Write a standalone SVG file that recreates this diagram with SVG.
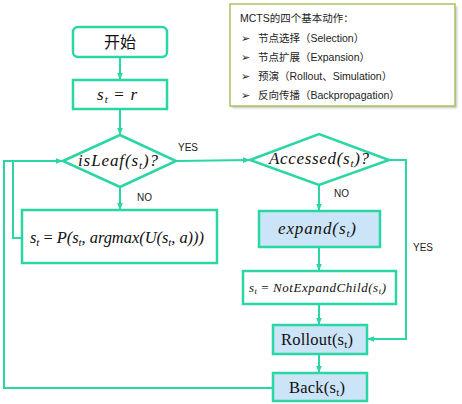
<svg xmlns="http://www.w3.org/2000/svg" width="462" height="404" viewBox="0 0 462 404">
<style>
.box{fill:#ffffff;stroke:#2ad6a3;stroke-width:2.5}
.blue{fill:#cce4f8;stroke:#2ad6a3;stroke-width:2.5}
.ln{fill:none;stroke:#2ad6a3;stroke-width:2}
.m{font-family:"Liberation Serif","DejaVu Serif",serif;font-style:italic;fill:#111}
.r{font-family:"Liberation Serif","DejaVu Serif",serif;fill:#111}
.lab{font-family:"Liberation Sans","Noto Sans CJK SC",sans-serif;font-size:10px;fill:#222}
.leg{font-family:"Liberation Sans","Noto Sans CJK SC",sans-serif;font-size:10.5px;fill:#222}
.cn{font-family:"Noto Sans CJK SC",sans-serif;font-size:16px;fill:#111}
</style>
<defs>
<marker id="ah" viewBox="0 0 10 10" refX="10" refY="5" markerWidth="7" markerHeight="7" markerUnits="userSpaceOnUse" orient="auto">
<path d="M0,1 L10,5 L0,9 Z" fill="#2ad6a3"/>
</marker>
<filter id="sh" x="-5%" y="-5%" width="115%" height="120%"><feGaussianBlur stdDeviation="1.2"/></filter>
</defs>
<rect width="462" height="404" fill="#ffffff"/>
<g id="legend">
<rect x="232" y="6" width="225" height="102" fill="#9a9a9a" opacity="0.6" filter="url(#sh)"/>
<rect x="230" y="4" width="225" height="102" fill="#ffffff" stroke="#a6c45e" stroke-width="1.5"/>
<text class="leg" x="240" y="22">MCTS的四个基本动作：</text>
<text class="leg" x="241" y="42">➢</text><text class="leg" x="258" y="42">节点选择（Selection）</text>
<text class="leg" x="241" y="61">➢</text><text class="leg" x="258" y="61">节点扩展（Expansion）</text>
<text class="leg" x="241" y="80">➢</text><text class="leg" x="258" y="80">预演（Rollout、Simulation）</text>
<text class="leg" x="241" y="99">➢</text><text class="leg" x="258" y="99">反向传播（Backpropagation）</text>
</g>
<g id="connectors">
<path class="ln" d="M120,57 V80" marker-end="url(#ah)"/>
<path class="ln" d="M120,109 V135" marker-end="url(#ah)"/>
<path class="ln" d="M176,161 L250,160" marker-end="url(#ah)"/>
<path class="ln" d="M120,187 V210" marker-end="url(#ah)"/>
<path class="ln" d="M22,238 H13 V161"/>
<path class="ln" d="M273,388 H4 V161 H63" marker-end="url(#ah)"/>
<path class="ln" d="M319,185 V211" marker-end="url(#ah)"/>
<path class="ln" d="M389,160 H406 V339 H367" marker-end="url(#ah)"/>
<path class="ln" d="M319,247 V271" marker-end="url(#ah)"/>
<path class="ln" d="M319,304 V325" marker-end="url(#ah)"/>
<path class="ln" d="M319,354 V373" marker-end="url(#ah)"/>
<text class="lab" x="178" y="151">YES</text>
<text class="lab" x="137" y="201">NO</text>
<text class="lab" x="334" y="197">NO</text>
<text class="lab" x="413" y="251">YES</text>
</g>
<g id="start">
<rect class="box" x="73" y="27" width="94" height="30" rx="5"/>
<text class="cn" x="120" y="48" text-anchor="middle">开始</text>
</g>
<g id="init">
<rect class="box" x="73" y="80" width="94" height="29"/>
<text class="m" x="97" y="100" font-size="17" textLength="40">s<tspan font-size="11" dy="3">t</tspan><tspan dy="-3" font-style="normal"> = </tspan>r</text>
</g>
<g id="isleaf">
<polygon class="box" points="63,161 120,135 176,161 120,187"/>
<text class="m" x="78" y="166" font-size="17" textLength="80">isLeaf(s<tspan font-size="11" dy="3">t</tspan><tspan dy="-3">)?</tspan></text>
</g>
<g id="select">
<rect class="box" x="22" y="210" width="195" height="53"/>
<text class="m" x="30" y="243" font-size="16.5" textLength="174">s<tspan font-size="11" dy="3">t</tspan><tspan dy="-3" font-style="normal"> = </tspan>P(s<tspan font-size="11" dy="3">t</tspan><tspan dy="-3">, argmax(U(s</tspan><tspan font-size="11" dy="3">t</tspan><tspan dy="-3">, a)))</tspan></text>
</g>
<g id="accessed">
<polygon class="box" points="250,160 319,134 389,160 319,185"/>
<text class="m" x="269" y="164" font-size="17" textLength="100">Accessed(s<tspan font-size="11" dy="3">t</tspan><tspan dy="-3">)?</tspan></text>
</g>
<g id="expand">
<rect class="blue" x="259" y="211" width="121" height="36"/>
<text class="m" x="278" y="234" font-size="17" textLength="78">expand(s<tspan font-size="11" dy="3">t</tspan><tspan dy="-3">)</tspan></text>
</g>
<g id="notexpand">
<rect class="box" x="243" y="271" width="153" height="33"/>
<text class="m" x="249" y="292" font-size="13" textLength="137">s<tspan font-size="8.5" dy="2">t</tspan><tspan dy="-2" font-style="normal"> = </tspan>NotExpandChild(s<tspan font-size="8.5" dy="2">t</tspan><tspan dy="-2">)</tspan></text>
</g>
<g id="rollout">
<rect class="blue" x="273" y="325" width="94" height="29"/>
<text class="r" x="281" y="345" font-size="16.5" textLength="72">Rollout(s<tspan font-size="11" dy="3">t</tspan><tspan dy="-3">)</tspan></text>
</g>
<g id="back">
<rect class="blue" x="273" y="373" width="94" height="28"/>
<text class="r" x="289" y="393" font-size="16.5" textLength="56">Back(s<tspan font-size="11" dy="3">t</tspan><tspan dy="-3">)</tspan></text>
</g>
</svg>
